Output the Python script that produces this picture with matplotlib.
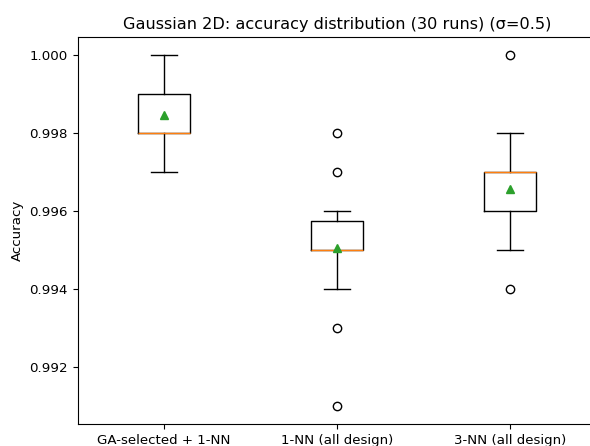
import matplotlib
matplotlib.use('Agg')
import matplotlib.pyplot as plt

# (accuracy over 30 runs)
labels = ['GA-selected + 1-NN', '1-NN (all design)', '3-NN (all design)']
whis_low = [0.997, 0.994, 0.995]
q1 = [0.998, 0.995, 0.996]
medians = [0.998, 0.995, 0.997]
q3 = [0.999, 0.99575, 0.997]
whis_high = [1.000, 0.996, 0.998]
means = [0.99845, 0.99505, 0.99655]
outliers = [[], [0.998, 0.997, 0.993, 0.991], [1.000, 0.994]]

plt.rcParams['font.size'] = 9.6

stats = []
for i in range(len(labels)):
    stats.append({
        'label': labels[i],
        'whislo': whis_low[i],
        'q1': q1[i],
        'med': medians[i],
        'q3': q3[i],
        'whishi': whis_high[i],
        'mean': means[i],
        'fliers': outliers[i],
    })

fig = plt.figure(figsize=(5.9, 4.46), dpi=100)
ax = fig.add_axes([77.5 / 590, 22 / 446, 519 / 590, 387 / 446])
ax.bxp(stats, showmeans=True)
ax.set_title('Gaussian 2D: accuracy distribution (30 runs) (σ=0.5)', fontsize=11.6)
ax.set_ylabel('Accuracy')

fig.savefig('out.png', dpi=100)
